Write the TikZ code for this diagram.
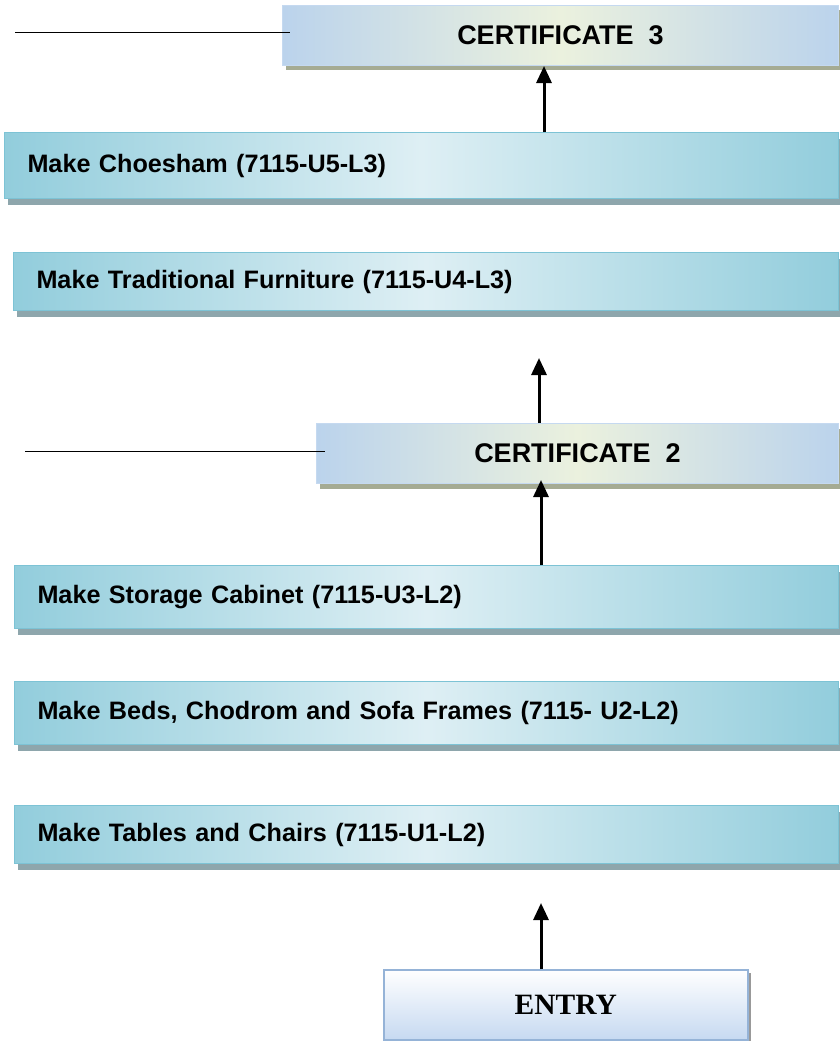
\documentclass[tikz,border=0pt]{standalone}
\usepackage{fontspec}
\setmainfont{Liberation Sans}
\newfontfamily\entryfont{Liberation Serif}
\usetikzlibrary{arrows.meta,shadows}
\definecolor{tealedge}{RGB}{146,205,220}
\definecolor{tealmid}{RGB}{222,239,244}
\definecolor{tealline}{RGB}{125,195,213}
\definecolor{tealshadow}{RGB}{142,166,172}
\definecolor{certedge}{RGB}{187,211,236}
\definecolor{certmid}{RGB}{235,241,222}
\definecolor{certline}{RGB}{197,217,240}
\definecolor{certshadow}{RGB}{165,171,147}
\definecolor{entryline}{RGB}{149,179,215}
\definecolor{entrybot}{RGB}{198,217,241}
\begin{document}
\begin{tikzpicture}[x=1pt,y=-1pt,
  unitbox/.style={anchor=north west, draw=tealline, line width=1pt,
    left color=tealedge, right color=tealedge, middle color=tealmid,
    inner xsep=23pt, inner ysep=0pt, align=left,
    font=\fontsize{25.2}{30}\selectfont\bfseries,
    drop shadow={shadow xshift=3pt, shadow yshift=-6pt, fill=tealshadow, opacity=1}},
  certbox/.style={anchor=north west, draw=certline, line width=1pt,
    left color=certedge, right color=certedge, middle color=certmid,
    inner sep=0pt, align=center,
    font=\fontsize{27}{32}\selectfont\bfseries,
    drop shadow={shadow xshift=3pt, shadow yshift=-5pt, fill=certshadow, opacity=1}},
  entrybox/.style={anchor=north west, draw=entryline, line width=1.5pt,
    top color=white, bottom color=entrybot, inner sep=0pt,
    font=\fontsize{29.5}{34}\selectfont\entryfont\bfseries,
    drop shadow={shadow xshift=3pt, shadow yshift=-3pt, fill=black!40, opacity=1}},
  uparrow/.style={line width=3pt, -{Triangle[width=15pt,length=17pt]}},
  thinline/.style={line width=1pt}]
\useasboundingbox[fill=white] (0,0) rectangle (840,1041);

\node[certbox, minimum width=556pt, minimum height=60pt] (c3) at (282,5) {CERTIFICATE\ \ 3};
\node[unitbox, text width=788pt, minimum height=66pt] (u5) at (4,132) {Make Choesham (7115-U5-L3)};
\node[unitbox, text width=779pt, minimum height=58pt] (u4) at (13,252) {Make Traditional Furniture (7115-U4-L3)};
\node[certbox, minimum width=522pt, minimum height=60pt] (c2) at (316,423) {CERTIFICATE\ \ 2};
\node[unitbox, text width=778pt, minimum height=63pt] (u3) at (14,565) {Make Storage Cabinet (7115-U3-L2)};
\node[unitbox, text width=778pt, minimum height=63pt] (u2) at (14,681) {Make Beds, Chodrom and Sofa Frames (7115- U2-L2)};
\node[unitbox, text width=778pt, minimum height=58pt] (u1) at (14,805) {Make Tables and Chairs (7115-U1-L2)};
\node[entrybox, minimum width=364pt, minimum height=70pt] (entry) at (383,969) {ENTRY};

\coordinate (l3) at (15,33);
\coordinate (l2) at (25,451);
\draw[thinline] (l3) -- ([xshift=8pt]l3 -| c3.west);
\draw[thinline] (l2) -- ([xshift=9pt]l2 -| c2.west);

\coordinate (ax1) at (544,0);
\coordinate (ax2) at (539,0);
\coordinate (ax3) at (541,0);
\coordinate (top2) at (539,358);
\coordinate (top1) at (541,903);

\draw[uparrow] (u5.north -| ax1) -- (c3.south -| ax1);
\draw[uparrow] (c2.north -| ax2) -- (top2);
\draw[uparrow] (u3.north -| ax3) -- ([yshift=4pt]c2.south -| ax3);
\draw[uparrow] (entry.north -| ax3) -- (top1);
\end{tikzpicture}
\end{document}
